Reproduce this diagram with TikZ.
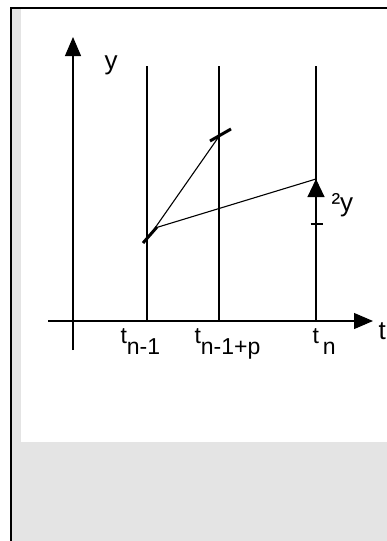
\documentclass[tikz,border=0pt]{standalone}
\usepackage{fontspec}
\setmainfont{Liberation Sans}
\usetikzlibrary{arrows.meta}
\definecolor{panelgrey}{HTML}{E4E4E4}

\begin{document}
\begin{tikzpicture}[x=1pt,y=-1pt,line width=1.1pt,
  every node/.style={inner sep=0pt,font=\fontsize{23}{23}\selectfont},
  bigtip/.style={-{Triangle[length=19pt,width=16pt]}},
  slopemark/.style={line width=3pt}]
\useasboundingbox (0,0) rectangle (387,541);
% panel
\fill[panelgrey] (11,8) rectangle (387,541);
\fill[white] (21,9) rectangle (387,442);
\draw[line width=2pt] (11,541) -- (11,7.5) -- (388,7.5);
% axes
\coordinate (yfoot) at (73,350);
\coordinate (ytop) at (73,37);
\coordinate (tleft) at (48,321);
\coordinate (tright) at (373,321);
\draw[bigtip] (yfoot) -- (ytop);
\draw[bigtip] (tleft) -- (tright);
\node[anchor=base,font=\fontsize{26}{26}\selectfont] (ylab) at (111,69) {y};
\node[anchor=base west,font=\fontsize{26}{26}\selectfont] (tlab) at (378,339) {t};
% time levels
\foreach \name/\xpos in {prev/147,mid/219,next/316}{
  \coordinate (\name top) at (\xpos,66);
  \coordinate (\name foot) at (\xpos,321);
  \draw (\name top) -- (\name foot);
}
\node[anchor=base west] (lprev) at (120,343) {t\raisebox{-11pt}{n-1}};
\node[anchor=base west] (lmid) at (194,343) {t\raisebox{-11pt}{n-1+p}};
\node[anchor=base west] (lnext) at (312,343) {t\,\raisebox{-11pt}{n}};
% slopes
\coordinate (start) at (155,228);
\coordinate (predict) at (220,135);
\coordinate (finish) at (316,179);
\draw (start) -- (predict);
\draw (start) -- (finish);
\draw[slopemark] (143,243) -- (157,227);
\draw[slopemark] (210,141) -- (231,129);
% increment
\coordinate (incfoot) at (316,224);
\draw[-{Triangle[length=18pt,width=17pt]}] (incfoot) -- (finish);
\draw (310.5,224) -- (322.5,224);
\node[anchor=base west,font=\fontsize{26}{26}\selectfont] (dylab) at (331,211) {²y};
\end{tikzpicture}
\end{document}
